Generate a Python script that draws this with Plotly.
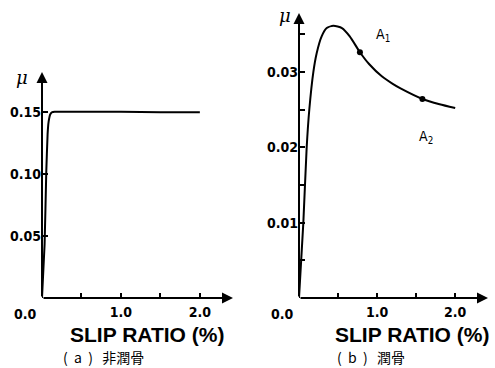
import plotly.graph_objects as go

W, H = 495, 368

# (a) non-lubricated
xa = [0, 0.033, 0.054, 0.071, 0.084, 0.105, 0.13, 0.16, 0.3, 0.6, 1.0, 1.5, 2.0]
ya = [0, 0.0434, 0.101, 0.132, 0.142, 0.148, 0.1497, 0.150, 0.150, 0.150, 0.150, 0.1496, 0.1496]

# (b) lubricated
xb = [0, 0.055, 0.098, 0.132, 0.184, 0.227, 0.29, 0.355, 0.44, 0.55, 0.65, 0.78, 0.9, 1.06, 1.2,
      1.3, 1.58, 1.8, 2.0]
yb = [0, 0.0099, 0.0199, 0.0250, 0.0300, 0.0325, 0.0347, 0.0358, 0.0361, 0.0358, 0.0347, 0.0326,
      0.0310, 0.0294, 0.0284, 0.0278, 0.0264, 0.0257, 0.0252]

pts_x = [0.78, 1.58]
pts_y = [0.0326, 0.0264]
pts_lbl = ["A<sub>1</sub>", "A<sub>2</sub>"]
pts_lbl_pos = [(1.07, 0.0349), (1.62, 0.0214)]

xtick_vals = [0.5, 1.0, 1.5, 2.0]
xtick_text = ["", "1.0", "", "2.0"]
ya_tick_vals = [0.05, 0.10, 0.15]
ya_tick_text = ["0.05", "0.10", "0.15"]
yb_tick_vals = [0.005, 0.01, 0.015, 0.02, 0.025, 0.03, 0.035]
yb_tick_text = ["", "0.01", "", "0.02", "", "0.03", ""]

XMAX = 2.42
YA_MAX = 0.182
YB_MAX = 0.0378

def px(x0, x1):
    return [x0 / W, x1 / W]

def py(ybot, ytop):
    return [(H - ybot) / H, (H - ytop) / H]

fig = go.Figure()
fig.add_trace(go.Scatter(x=xa, y=ya, mode="lines", line=dict(color="black", width=2, shape="spline", smoothing=0.4),
                         xaxis="x", yaxis="y", showlegend=False, hoverinfo="skip"))
fig.add_trace(go.Scatter(x=xb, y=yb, mode="lines", line=dict(color="black", width=2, shape="spline", smoothing=0.6),
                         xaxis="x2", yaxis="y2", showlegend=False, hoverinfo="skip"))
fig.add_trace(go.Scatter(x=pts_x, y=pts_y, mode="markers", marker=dict(color="black", size=6),
                         xaxis="x2", yaxis="y2", showlegend=False, hoverinfo="skip"))

tickfont = dict(family="DejaVu Sans Condensed, Liberation Sans Narrow, DejaVu Sans", size=14, color="black", weight="bold")

common_x = dict(range=[0, XMAX], showgrid=False, zeroline=False, showline=False,
                tickvals=xtick_vals, ticktext=xtick_text, ticks="inside", ticklen=5,
                tickwidth=1.5, tickcolor="black", tickfont=tickfont, ticklabelstandoff=4)
fig.update_layout(
    width=W, height=H, margin=dict(l=0, r=0, t=0, b=0),
    paper_bgcolor="white", plot_bgcolor="white",
    xaxis=dict(domain=px(42, 233), anchor="y", **common_x),
    yaxis=dict(domain=py(298, 72), anchor="x", range=[0, YA_MAX], showgrid=False, zeroline=False,
               showline=False, tickvals=ya_tick_vals, ticktext=ya_tick_text, ticks="inside",
               ticklen=6, tickwidth=1.5, tickcolor="black", tickfont=tickfont),
    xaxis2=dict(domain=px(299, 488), anchor="y2", **common_x),
    yaxis2=dict(domain=py(298, 13), anchor="x2", range=[0, YB_MAX], showgrid=False, zeroline=False,
                showline=False, tickvals=yb_tick_vals, ticktext=yb_tick_text, ticks="inside",
                ticklen=6, tickwidth=1.5, tickcolor="black", tickfont=tickfont),
    showlegend=False,
)

ann = []
# axis arrows
for xr, yr, ymax in [("x", "y", YA_MAX), ("x2", "y2", YB_MAX)]:
    ann.append(dict(x=XMAX, y=0, ax=0, ay=0, xref=xr, yref=yr, axref=xr, ayref=yr, text="",
                    showarrow=True, arrowhead=2, arrowsize=1.1, arrowwidth=2, arrowcolor="black"))
    ann.append(dict(x=0, y=ymax, ax=0, ay=0, xref=xr, yref=yr, axref=xr, ayref=yr, text="",
                    showarrow=True, arrowhead=2, arrowsize=1.1, arrowwidth=2, arrowcolor="black"))
    ann.append(dict(x=0, y=0, xref=xr, yref=yr, text="0.0", showarrow=False, xanchor="right",
                    yanchor="top", xshift=-3, yshift=-6, font=tickfont))

mufont = dict(family="DejaVu Serif", size=18, color="black")
ann.append(dict(x=22 / W, y=(H - 77) / H, xref="paper", yref="paper", text="<i>μ</i>", showarrow=False,
                xanchor="center", yanchor="middle", font=mufont))
ann.append(dict(x=285 / W, y=(H - 15) / H, xref="paper", yref="paper", text="<i>μ</i>", showarrow=False,
                xanchor="center", yanchor="middle", font=mufont))

for (lx, ly), t in zip(pts_lbl_pos, pts_lbl):
    ann.append(dict(x=lx, y=ly, xref="x2", yref="y2", text=t, showarrow=False,
                    xanchor="center", yanchor="middle",
                    font=dict(family="DejaVu Sans Condensed, DejaVu Sans", size=14, color="black")))

titlefont = dict(family="Liberation Sans, Arial", size=21, color="black", weight="bold")
ann.append(dict(x=147 / W, y=(H - 334) / H, xref="paper", yref="paper", text="SLIP RATIO (%)",
                showarrow=False, xanchor="center", yanchor="middle", font=titlefont))
ann.append(dict(x=412 / W, y=(H - 334) / H, xref="paper", yref="paper", text="SLIP RATIO (%)",
                showarrow=False, xanchor="center", yanchor="middle", font=titlefont))

capfont = dict(family="Noto Sans CJK JP", size=14, color="black")
ann.append(dict(x=103 / W, y=(H - 357) / H, xref="paper", yref="paper", text="(  a  )   非潤骨",
                showarrow=False, xanchor="center", yanchor="middle", borderpad=0, font=capfont))
ann.append(dict(x=371 / W, y=(H - 357) / H, xref="paper", yref="paper", text="(  b  )   潤骨",
                showarrow=False, xanchor="center", yanchor="middle", borderpad=0, font=capfont))

fig.update_layout(annotations=ann)
fig.write_html("out.html")
